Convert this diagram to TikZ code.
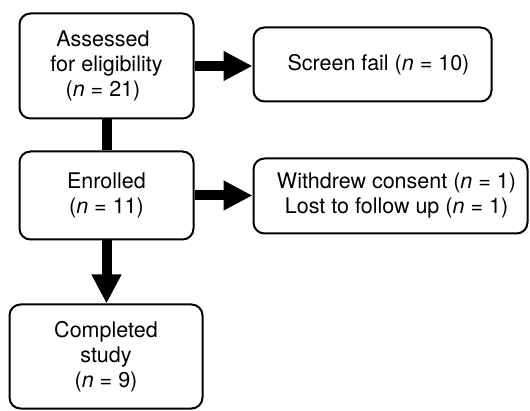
\documentclass[tikz,border=0pt]{standalone}
\usepackage{fontspec}
\setmainfont{TeX Gyre Heros}
\usetikzlibrary{arrows.meta}
\begin{document}
\begin{tikzpicture}[x=1pt,y=-1pt,
  box/.style={draw=black, line width=2pt, rounded corners=11pt, align=center,
    font=\fontsize{21.5}{25}\selectfont, inner sep=0pt},
  thickarrow/.style={line width=10pt, -{Triangle[width=28pt,length=29pt]}},
  thickline/.style={line width=10pt}]
\useasboundingbox (0,0) rectangle (530,411);
\node[box, minimum width=174pt, minimum height=105pt] (assess) at (106.5,66) {Assessed\hspace*{7pt}\\for eligibility\hspace*{7pt}\\(\textit{n} = 21)\hspace*{7pt}};
\node[box, minimum width=238pt, minimum height=74pt] (screen) at (372.5,64.5) {\hspace*{12pt}Screen fail (\textit{n} = 10)};
\node[box, minimum width=174pt, minimum height=88pt] (enrol) at (106.5,195.5) {Enrolled\\(\textit{n} = 11)};
\node[box, minimum width=274pt, minimum height=75pt] (withdrew) at (390.5,196) {\hspace*{12pt}Withdrew consent (\textit{n} = 1)\\\hspace*{12pt}Lost to follow up (\textit{n} = 1)};
\node[box, minimum width=193pt, minimum height=104pt] (done) at (106,356.5) {Completed\\study\\(\textit{n} = 9)};
\draw[thickarrow] (assess.east) -- (assess.east -| screen.west);
\draw[thickline] (assess.south) -- (enrol.north);
\draw[thickarrow] (enrol.east) -- (enrol.east -| withdrew.west);
\draw[thickarrow] (enrol.south) -- (enrol.south |- done.north);
\end{tikzpicture}
\end{document}
